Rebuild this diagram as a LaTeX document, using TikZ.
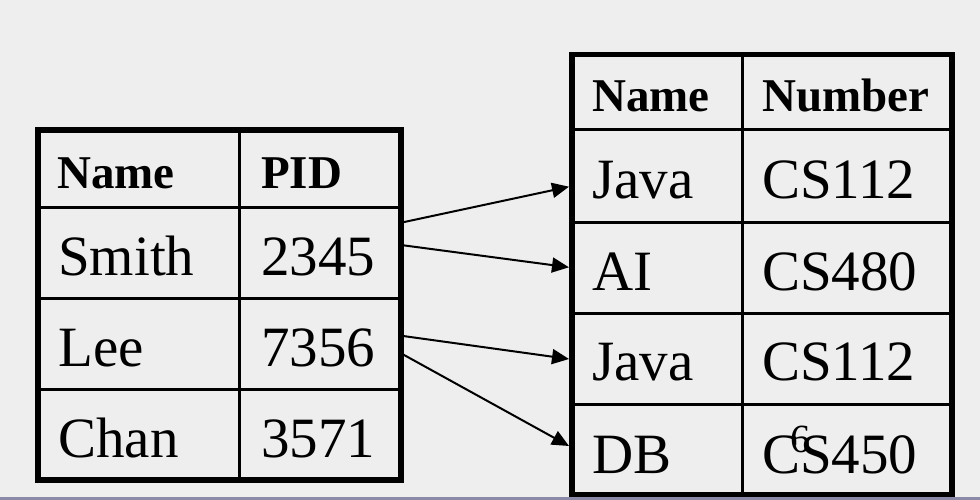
\documentclass[tikz,border=0pt]{standalone}
\usepackage{fontspec}
\setmainfont{Liberation Serif}
\usetikzlibrary{arrows.meta}
\definecolor{bg}{HTML}{EEEEEE}
\definecolor{bar}{HTML}{8A8AA8}
\begin{document}
\begin{tikzpicture}[x=1pt,y=-1pt,
  outer/.style={line width=5.5pt},
  inner/.style={line width=3pt},
  body/.style={anchor=base west, inner sep=0pt, font=\fontsize{57}{60}\selectfont},
  head/.style={anchor=base west, inner sep=0pt, font=\bfseries\fontsize{47}{50}\selectfont},
  pagenum/.style={anchor=base west, inner sep=0pt, font=\fontsize{40}{42}\selectfont},
  link/.style={line width=2pt, -{Triangle[length=17pt,width=15pt]}}]
\useasboundingbox (0,0) rectangle (980,500);
\fill[bg] (0,0) rectangle (980,500);
\fill[bar] (0,496.5) rectangle (980,500);

% left table
\draw[inner] (38,207) -- (401,207) (38,298) -- (401,298) (38,389) -- (401,389)
  (239.5,130) -- (239.5,480);
\draw[outer] (38,130) rectangle (401,480);
\node[head] (lh1) at (57,188.3) {Name};
\node[head] (lh2) at (261,188.3) {PID};
\node[body] (l11) at (58,275.7) {Smith};
\node[body] (l12) at (261,275.7) {2345};
\node[body] (l21) at (58,366.7) {Lee};
\node[body] (l22) at (261,366.7) {7356};
\node[body] (l31) at (58,457) {Chan};
\node[body] (l32) at (261,457) {3571};

% right table
\draw[inner] (572,130) -- (952,130) (572,222.3) -- (952,222.3) (572,313.3) -- (952,313.3)
  (572,404.3) -- (952,404.3) (742,54.5) -- (742,494.5);
\draw[outer] (572,54.5) rectangle (952,494.5);
\node[head] (rh1) at (592,111.7) {Name};
\node[head] (rh2) at (762,111.7) {Number};
\node[body] (r11) at (592,198) {Java};
\node[body] (r12) at (762,198) {CS112};
\node[body] (r21) at (592,290) {AI};
\node[body] (r22) at (762,290) {CS480};
\node[body] (r31) at (592,380) {Java};
\node[body] (r32) at (762,380) {CS112};
\node[body] (r41) at (592,473.3) {DB};
\node[body] (r42) at (762,473.3) {CS450};
\node[pagenum] (pg) at (790,452.7) {6};

% links
\coordinate (s1) at (401,222.7);
\coordinate (s2) at (401,245);
\coordinate (s3) at (401,335.7);
\coordinate (s4) at (401,353.3);
\coordinate (e1) at (569,186.7);
\coordinate (e2) at (569,267.3);
\coordinate (e3) at (569,359);
\coordinate (e4) at (569,446);
\draw[link] (s1) -- (e1);
\draw[link] (s2) -- (e2);
\draw[link] (s3) -- (e3);
\draw[link] (s4) -- (e4);
\end{tikzpicture}
\end{document}
